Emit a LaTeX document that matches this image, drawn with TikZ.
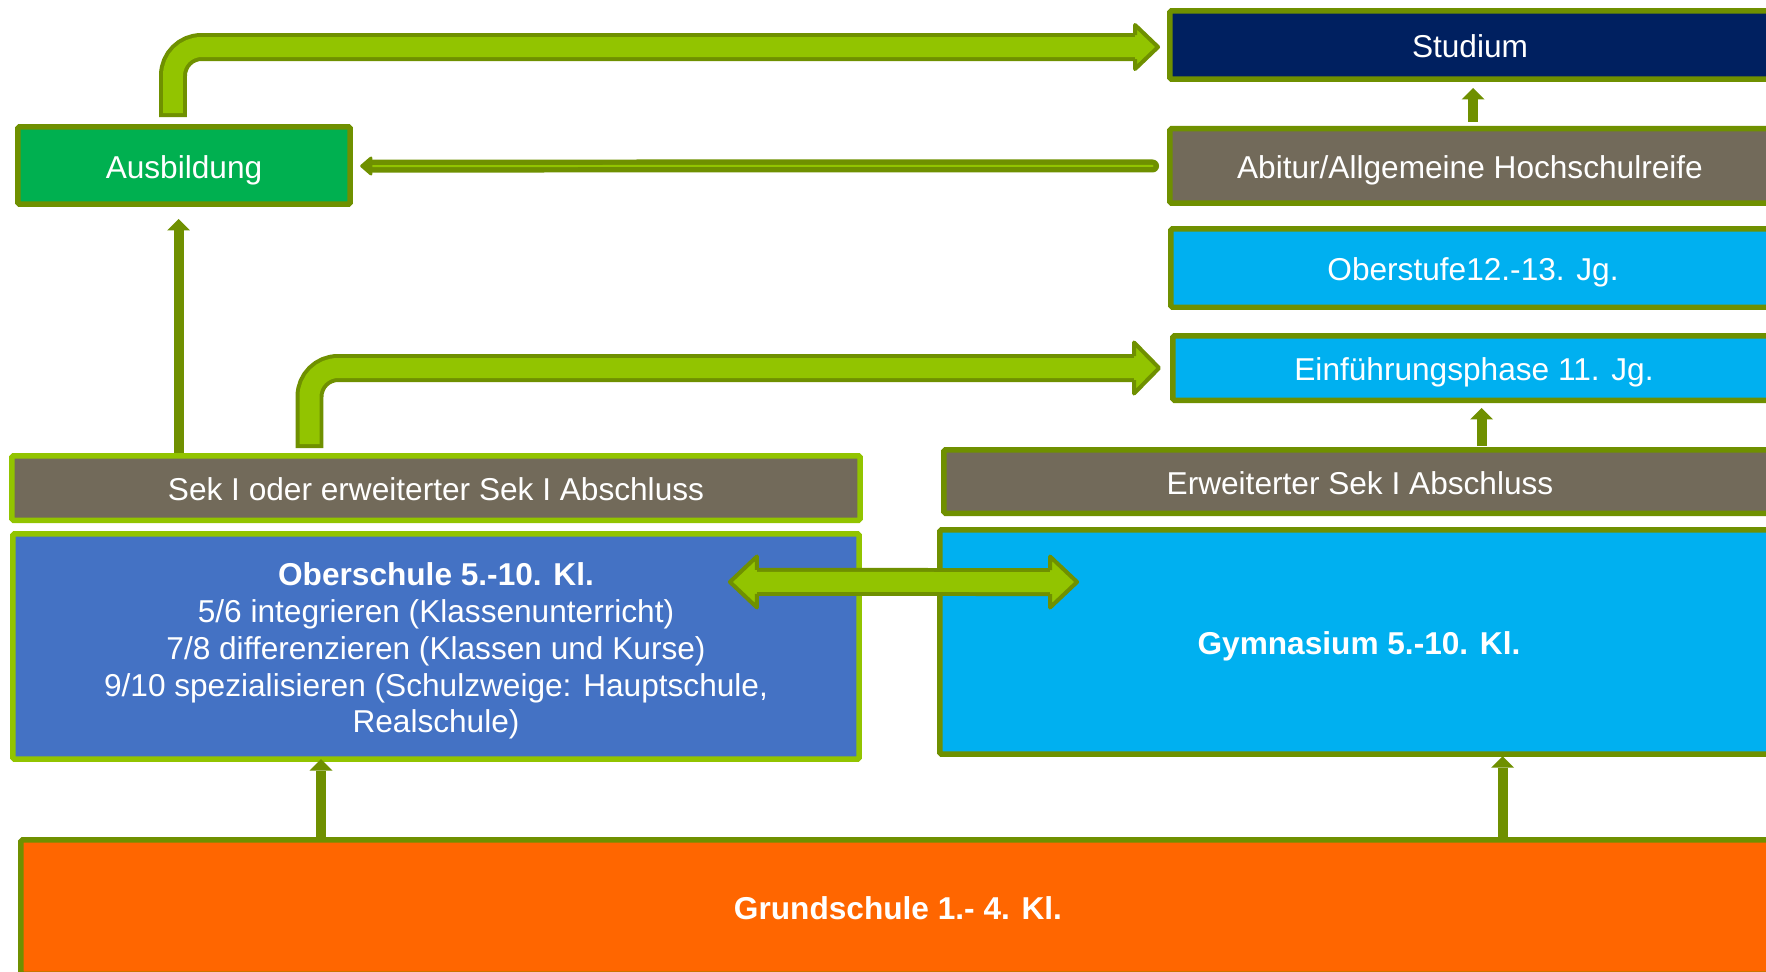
\documentclass[tikz,border=0pt]{standalone}
\usepackage{fontspec}
\setmainfont{Liberation Sans}
\usetikzlibrary{positioning, calc, arrows.meta}
\definecolor{arrowdark}{HTML}{6F9000}
\definecolor{arrowlime}{HTML}{92C400}
\definecolor{navyfill}{HTML}{002060}
\definecolor{grayfill}{HTML}{726A5A}
\definecolor{cyanfill}{HTML}{00B0F0}
\definecolor{greenfill}{HTML}{00B050}
\definecolor{bluefill}{HTML}{4472C4}
\definecolor{orangefill}{HTML}{FF6600}
\tikzset{box/.style = {draw=arrowdark, line width=0.11cm, rounded corners=1pt, inner sep=0pt, outer sep=0pt, text=white, align=center, font=\fontsize{18}{21}\selectfont}}
\tikzset{limebox/.style = {box, draw=arrowlime}}
\tikzset{oneline/.style = {text height=17.6pt, text depth=3pt}}
\tikzset{bigarrow/.style = {draw=arrowdark, line width=0.08cm, double=arrowlime, double distance=0.4cm, line cap=rect, rounded corners=0.57cm}}
\tikzset{bighead/.style = {fill=arrowlime, draw=arrowdark, line width=0.08cm, line join=round}}
\tikzset{thinarrow/.style = {draw=arrowdark, line width=0.11cm, double=arrowlime, double distance=0.04cm, line cap=round}}
\tikzset{smallarrow/.style = {draw=arrowdark, line width=0.2cm, -{Triangle[length=0.23cm, width=0.46cm, line width=0pt]}}}

\begin{document}
\begin{tikzpicture}[x=0.02cm, y=-0.02cm, node distance=1cm]
  \useasboundingbox (0,0) rectangle (1766,971);
  \clip (0,0) rectangle (1766,971);

  \node [box, oneline, fill=navyfill, minimum width=12.01cm, minimum height=1.37cm] (studium) at (1470,45) {Studium};
  \node [box, oneline, fill=grayfill, minimum width=12.01cm, minimum height=1.49cm, below=0.99cm of studium] (abitur) {Abitur/Allgemeine Hochschulreife};
  \node [box, oneline, fill=cyanfill, minimum width=12.09cm, minimum height=1.57cm] (oberstufe) at (1473,268) {Oberstufe12.-13. Jg.};
  \node [box, oneline, fill=cyanfill, minimum width=12.05cm, minimum height=1.29cm] (einf) at (1474,368) {Einführungsphase 11. Jg.};
  \node [box, oneline, fill=grayfill, minimum width=16.65cm, minimum height=1.27cm] (erwsek) at (1360,481.5) {Erweiterter Sek I Abschluss};
  \node [box, oneline, fill=cyanfill, minimum width=16.77cm, minimum height=4.49cm] (gym) at (1359,642) {\textbf{Gymnasium 5.-10. Kl.}};
  \node [box, oneline, fill=greenfill, minimum width=6.65cm, minimum height=1.55cm] (ausb) at (184,165.5) {Ausbildung};
  \node [limebox, oneline, fill=grayfill, minimum width=16.97cm, minimum height=1.29cm] (seki) at (436,488) {Sek I oder erweiterter Sek I Abschluss};
  \node [limebox, fill=bluefill, minimum width=16.93cm, minimum height=4.51cm, below=0.27cm of seki] (obs) {\rule{0pt}{18.2pt}\textbf{Oberschule 5.-10. Kl.}\\5/6 integrieren (Klassenunterricht)\\7/8 differenzieren (Klassen und Kurse)\\9/10 spezialisieren (Schulzweige: Hauptschule,\\Realschule)};
  \node [box, oneline, fill=orangefill, minimum width=35.09cm, minimum height=2.69cm] (grund) at (898,907) {\textbf{Grundschule 1.- 4. Kl.}};

  \draw[bigarrow] ($(ausb.north)+(-11,-23.75)$) |- ($(studium.west)+(-44.75,2)$);
  \filldraw[bighead] ($(studium.west)+(-34.75,-10)$) -- ($(studium.west)+(-34.75,-20)$) -- ($(studium.west)+(-11.75,2)$) -- ($(studium.west)+(-34.75,24)$) -- ($(studium.west)+(-34.75,14)$);

  \draw[bigarrow] ($(seki.north)+(-126.5,-21.75)$) |- ($(einf.west)+(-48.75,0)$);
  \filldraw[bighead] ($(einf.west)+(-38.75,-12)$) -- ($(einf.west)+(-38.75,-25.5)$) -- ($(einf.west)+(-13.75,0)$) -- ($(einf.west)+(-38.75,25.5)$) -- ($(einf.west)+(-38.75,12)$);

  \draw[bigarrow] ($(obs.east)+(-92.25,-64.5)$) -- ($(gym.west)+(100.25,-60)$);
  \filldraw[bighead] ($(obs.east)+(-102.25,-76.5)$) -- ($(obs.east)+(-102.25,-90)$) -- ($(obs.east)+(-129.25,-64.5)$) -- ($(obs.east)+(-102.25,-39)$) -- ($(obs.east)+(-102.25,-52.5)$);
  \filldraw[bighead] ($(gym.west)+(110.25,-72)$) -- ($(gym.west)+(110.25,-85.5)$) -- ($(gym.west)+(137.25,-60)$) -- ($(gym.west)+(110.25,-34.5)$) -- ($(gym.west)+(110.25,-48)$);

  \draw[thinarrow] ($(abitur.west)+(-17.25,0)$) -- ($(ausb.east)+(20.75,0.5)$);
  \filldraw[arrowdark, line width=0.06cm, line join=round] ($(ausb.east)+(20.75,-7.5)$) -- ($(ausb.east)+(11.5,0.5)$) -- ($(ausb.east)+(20.75,8.5)$) -- cycle;

  \draw[smallarrow] ($(ausb.south |- seki.north)+(-5.5,-2.75)$) -- ($(ausb.south)+(-5.5,14.75)$);
  \draw[smallarrow] ($(abitur.north)+(3,-6.75)$) -- ($(studium.south)+(3,8.75)$);
  \draw[smallarrow] ($(einf.south |- erwsek.north)+(7.5,-3.75)$) -- ($(einf.south)+(7.5,7.75)$);
  \draw[smallarrow] ($(obs.south |- grund.north)+(-115,-2.75)$) -- ($(obs.south)+(-115,0)$);
  \draw[smallarrow] ($(gym.south |- grund.north)+(143.5,-2.75)$) -- ($(gym.south)+(143.5,2)$);
\end{tikzpicture}
\end{document}
